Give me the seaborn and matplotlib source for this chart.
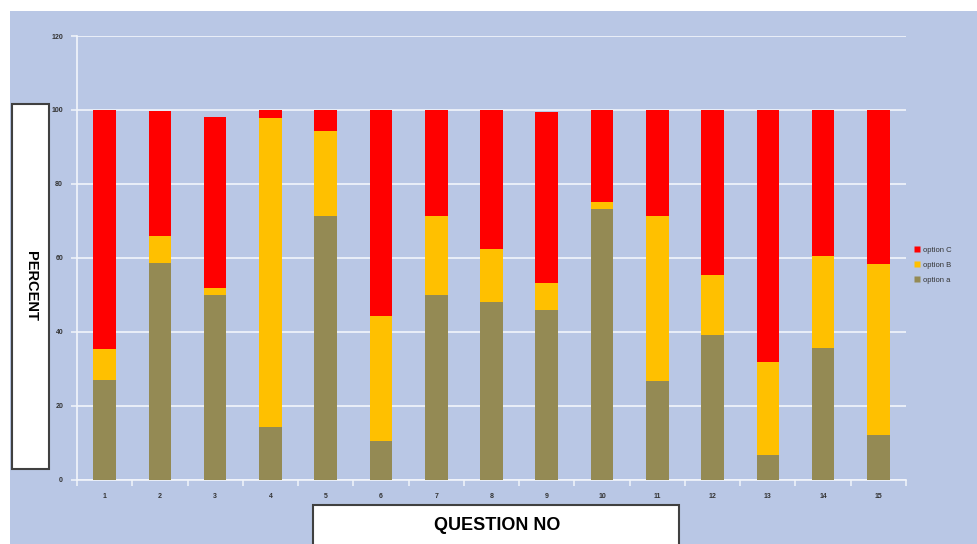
import numpy as np
import pandas as pd
import seaborn as sns
import matplotlib
matplotlib.use("Agg")
import matplotlib.pyplot as plt
from matplotlib.patches import Rectangle
from matplotlib.lines import Line2D

# Survey responses per question, in percent
questions = [str(i) for i in range(1, 16)]
option_a = [27.0, 58.6, 50.0, 14.3, 71.4, 10.5, 50.0, 48.0, 46.0, 73.2, 26.8, 39.2, 6.8, 35.7, 12.2]
option_b = [8.5, 7.4, 2.0, 83.5, 22.9, 33.8, 21.4, 14.5, 7.2, 2.0, 44.6, 16.2, 25.1, 24.8, 46.2]
option_c = [64.5, 33.6, 46.2, 2.2, 5.7, 55.7, 28.6, 37.5, 46.3, 24.8, 28.6, 44.6, 68.1, 39.5, 41.6]
legend_labels = ["option C", "option B", "option a"]
y_ticks = [0, 20, 40, 60, 80, 100, 120]

BG = "#B9C7E5"
RED = "#FF0000"
YELLOW = "#FFC000"
OLIVE = "#948A54"

df = pd.DataFrame({"question": questions, "a": option_a, "b": option_b, "c": option_c})
df["ab"] = df["a"] + df["b"]
df["abc"] = df["ab"] + df["c"]

sns.set_style("white")
plt.rcParams["font.family"] = ["Liberation Sans", "DejaVu Sans"]

W, H = 978, 544
fig = plt.figure(figsize=(W / 100, H / 100), dpi=100, facecolor="white")

# Blue chart area behind everything
fig.patches.append(Rectangle((10 / W, 0), 1, (H - 11) / H, transform=fig.transFigure,
                             facecolor=BG, edgecolor="none", zorder=-10))

ax = fig.add_axes([77 / W, (H - 480) / H, (906 - 77) / W, (480 - 36) / H])
ax.set_facecolor(BG)
ax.set_zorder(1)

# Stacked bars: draw cumulative totals from the top segment down
sns.barplot(data=df, x="question", y="abc", color=RED, width=0.41, saturation=1,
            linewidth=0, ax=ax, zorder=3)
sns.barplot(data=df, x="question", y="ab", color=YELLOW, width=0.41, saturation=1,
            linewidth=0, ax=ax, zorder=4)
sns.barplot(data=df, x="question", y="a", color=OLIVE, width=0.41, saturation=1,
            linewidth=0, ax=ax, zorder=5)

ax.set_xlim(-0.5, len(questions) - 0.5)
ax.set_ylim(0, 120)
ax.set_yticks(y_ticks)
ax.set_yticklabels([str(t) for t in y_ticks])
ax.set_xticks(np.arange(len(questions)))
ax.set_xticklabels(questions)
ax.set_xticks(np.arange(-0.5, len(questions), 1), minor=True)
ax.set_xlabel("")
ax.set_ylabel("")

ax.yaxis.grid(True, color="#F2F5FB", linewidth=1.2, zorder=1)
ax.set_axisbelow(True)
for side in ["top", "right"]:
    ax.spines[side].set_visible(False)
for side in ["left", "bottom"]:
    ax.spines[side].set_color("#F2F5FB")
    ax.spines[side].set_linewidth(1.2)

ax.tick_params(axis="y", which="major", length=4, width=1.1, color="#F2F5FB",
               labelsize=5, labelcolor="#333333", pad=6, direction="out", left=True)
ax.tick_params(axis="x", which="major", length=0, labelsize=5, labelcolor="#333333", pad=9,
               bottom=True)
ax.tick_params(axis="x", which="minor", length=4, width=1.1, color="#F2F5FB", direction="out",
               bottom=True)
for lab in ax.get_xticklabels() + ax.get_yticklabels():
    lab.set_fontweight("bold")

# Legend on the right
handles = [Line2D([], [], marker="s", linestyle="none", markersize=4,
                  markerfacecolor=c, markeredgecolor="none")
           for c in [RED, YELLOW, OLIVE]]
leg = fig.legend(handles, legend_labels, loc="center left",
                 bbox_to_anchor=(910 / W, (H - 265) / H), frameon=False,
                 fontsize=5.5, handlelength=0.8, handletextpad=0.35, labelspacing=1.0,
                 borderpad=0)
for t in leg.get_texts():
    t.set_color("#333333")

# Axis title boxes
fig.patches.append(Rectangle((12 / W, (H - 469) / H), 37 / W, 365 / H, transform=fig.transFigure,
                             facecolor="white", edgecolor="#404040", linewidth=1.5, zorder=6))
fig.text(30.5 / W, (H - 286) / H, "PERCENT", rotation=-90, ha="center", va="center",
         fontsize=10.5, fontweight="bold", color="black", zorder=7)

fig.patches.append(Rectangle((313 / W, -0.05), 366 / W, (39 / H) + 0.05, transform=fig.transFigure,
                             facecolor="white", edgecolor="#404040", linewidth=1.5, zorder=6))
fig.text(497 / W, (H - 526) / H, "QUESTION NO", ha="center", va="center",
         fontsize=13, fontweight="bold", color="black", zorder=7)

fig.savefig("out.png", dpi=100, facecolor=fig.get_facecolor())
